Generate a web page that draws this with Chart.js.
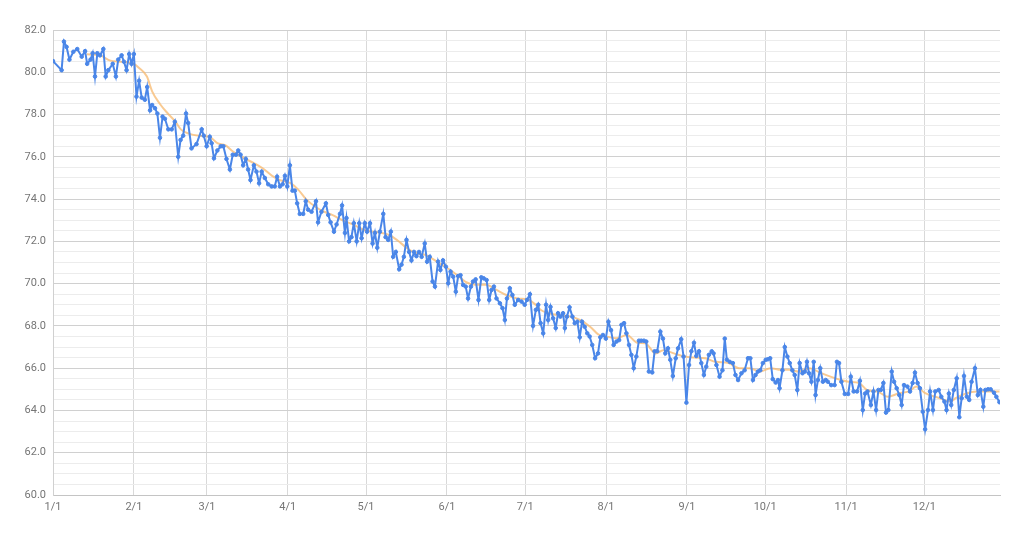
<!DOCTYPE html>
<html lang="en">
<head>
  <meta charset="UTF-8" />
  <title>Weight over the year</title>
  <script src="https://cdn.jsdelivr.net/npm/chart.js"></script>
  <style>
    html, body {
      margin: 0;
      padding: 0;
      background: #fff;
    }
    #chart {
      display: block;
    }
  </style>
</head>
<body>
  <canvas id="chart" width="1024" height="537"></canvas>

  <script>
    // x positions are days since 1/1
    const dayNums = [
      0, 3.3, 4.2, 5.2, 6.3, 7.8, 9.3, 11, 12.3, 13.1, 14.4, 15.2, 16.1, 17, 18, 19.3, 20.2, 21.2, 22.9, 24.1,
      25, 26.3, 27.2, 28.2, 29.2, 30.1, 31, 32, 33, 34, 35.2, 36.1, 37.2, 38, 39.1, 40, 41, 42, 42.9, 44.2,
      45.5, 46.7, 48, 48.9, 49.9, 51, 51.8, 53.1, 55, 57, 57.8, 58.9, 60.1, 60.8, 61.7, 63, 64.3, 65.3, 66.5, 67.8,
      68.9, 70.1, 71, 71.9, 72.9, 73.9, 74.8, 75.7, 77, 78, 79, 80, 81.2, 82.5, 83.8, 85, 85.9, 87, 88, 88.9,
      89.8, 90.8, 91.8, 92.7, 93.6, 94.6, 95.9, 96.9, 97.8, 99.1, 100.8, 101.6, 102.9, 104.6, 105.5, 106.4, 107.7, 108.7, 110, 110.8,
      111.9, 112.5, 113.5, 114.4, 115.3, 116.4, 117.4, 118.3, 119.5, 120.4, 121.5, 122.5, 123.4, 124.3, 125.3, 126.6, 127.5, 128.5, 129.5, 130.4,
      131.4, 132.7, 133.6, 134.5, 135.5, 136.5, 137.4, 138.4, 139.3, 140.3, 141.3, 142.5, 143.4, 144.4, 145.5, 146.4, 147.6, 148.5, 149.5, 150.6,
      151.5, 152.4, 153.4, 154.4, 155.3, 156.2, 157.2, 158.2, 159.1, 160.2, 161, 162, 163.1, 164.2, 165.1, 166.2, 167.2, 168.1, 169, 170,
      171.3, 172.3, 173.2, 174, 175.1, 176.1, 177, 178.3, 179.6, 180.8, 181.7, 182.8, 184, 185.1, 186, 186.9, 187.9, 189, 189.8, 190.7,
      191.7, 192.7, 193.6, 194.5, 195.5, 196.2, 197, 198, 199.1, 200, 201, 201.9, 202.8, 203.8, 204.8, 205.7, 206.7, 207.8, 208.9, 209.8,
      210.8, 211.9, 212.9, 213.9, 214.9, 216, 217, 217.9, 218.9, 219.8, 220.8, 221.7, 222.6, 223.6, 224.6, 225.5, 226.5, 227.4, 228.4, 229.7,
      230.6, 231.6, 232.8, 233.8, 234.7, 235.7, 236.6, 237.6, 238.7, 239.6, 240.8, 241.7, 242.8, 243.8, 244.7, 245.7, 246.6, 247.6, 248.5, 249.5,
      250.4, 251.4, 252.5, 253.2, 254.3, 255.5, 256.6, 257.5, 258.3, 259.4, 260.6, 261.6, 262.6, 263.9, 265.1, 266.4, 267.3, 268.3, 269.3, 270.2,
      271.1, 272.1, 273.2, 274, 274.9, 275.9, 277, 277.9, 278.5, 279.6, 280.5, 281.5, 282.4, 283.4, 284.3, 285.3, 286.2, 287.3, 288.2, 289,
      289.8, 290.7, 291.6, 292.3, 293.2, 294.1, 295.1, 296.2, 297, 298.3, 299.6, 300.5, 301.3, 302.2, 303.5, 304.8, 305.8, 306.9, 308.2, 309.3,
      310.4, 311.3, 312.2, 313.5, 314.5, 315.5, 316.4, 317.3, 318.3, 319.3, 320.2, 321.5, 322.4, 323.4, 324.4, 325.3, 326.2, 327.5, 328.5, 329.5,
      330.4, 331.4, 332.3, 333.4, 334.3, 335.4, 336.2, 337.3, 338.2, 339.5, 340.5, 341.7, 342.5, 343.4, 344.3, 345.3, 346.4, 347.4, 348.3, 349.2,
      350.3, 351.2, 352.1, 353.4, 354.5, 355.5, 356.6, 357.4, 358.4, 359.4, 360.7, 361.6, 362.8
    ];

    const weights = [
      80.53, 80.1, 81.45, 81.2, 80.6, 80.97, 81.1, 80.74, 81.0, 80.4, 80.6, 80.9, 79.8, 80.9, 80.8, 81.1, 79.8, 80.1, 80.4, 79.8,
      80.6, 80.8, 80.5, 80.1, 80.86, 80.4, 80.86, 78.85, 79.6, 78.8, 78.7, 79.3, 78.2, 78.45, 78.3, 78.05, 76.9, 77.9, 77.8, 77.3,
      77.3, 77.66, 76.0, 76.8, 77.0, 78.05, 77.6, 76.4, 76.6, 77.3, 77.0, 76.5, 76.95, 76.64, 75.93, 76.3, 76.5, 76.5, 75.9, 75.4,
      76.1, 76.1, 76.3, 76.1, 75.6, 75.9, 75.4, 74.9, 75.6, 75.3, 74.75, 75.3, 75.0, 74.7, 74.6, 74.6, 75.06, 74.6, 74.7, 75.1,
      74.6, 75.6, 74.4, 74.4, 73.8, 73.3, 73.3, 73.9, 73.5, 73.4, 73.9, 72.9, 73.4, 73.8, 73.25, 72.9, 72.46, 72.8, 73.3, 73.7,
      72.4, 73.1, 72.0, 72.2, 72.86, 72.0, 72.86, 72.15, 72.86, 72.46, 72.86, 71.9, 72.4, 71.7, 72.46, 73.3, 72.2, 72.07, 72.46, 71.27,
      71.5, 70.68, 70.9, 71.27, 72.07, 71.5, 71.1, 71.5, 71.3, 71.5, 71.27, 71.9, 71.04, 71.27, 70.1, 69.86, 71.04, 70.65, 71.1, 70.8,
      70.02, 70.57, 70.33, 69.62, 70.36, 70.4, 69.94, 69.86, 69.3, 69.86, 70.1, 70.2, 69.23, 70.3, 70.25, 70.17, 69.23, 69.7, 69.86, 69.3,
      69.07, 68.84, 68.28, 69.3, 69.78, 69.46, 69.0, 69.23, 69.15, 69.0, 69.23, 69.5, 68.0, 68.76, 69.0, 68.13, 67.65, 69.0, 68.28, 68.9,
      68.36, 67.9, 68.6, 68.44, 68.6, 67.9, 68.44, 68.88, 68.44, 68.13, 68.2, 67.46, 68.2, 67.96, 67.65, 67.5, 67.1, 66.47, 66.7, 67.46,
      67.57, 67.4, 68.2, 67.8, 67.1, 67.26, 67.33, 68.05, 68.13, 67.65, 67.1, 66.63, 66.0, 66.55, 67.3, 67.3, 67.3, 67.26, 65.84, 65.8,
      66.8, 66.8, 67.73, 67.4, 66.7, 66.94, 66.4, 65.63, 66.47, 66.94, 67.37, 66.55, 64.37, 66.15, 66.8, 67.2, 66.58, 66.8, 66.24, 65.68,
      66.07, 66.63, 66.8, 66.7, 66.15, 65.6, 65.9, 67.4, 66.4, 66.3, 66.24, 65.68, 65.44, 65.76, 65.9, 66.47, 66.47, 65.44, 65.68, 65.84,
      65.9, 66.24, 66.4, 66.42, 66.47, 65.48, 65.32, 65.44, 65.05, 65.9, 67.0, 66.55, 66.24, 65.9, 65.68, 64.97, 66.24, 65.76, 65.84, 66.3,
      65.76, 65.36, 66.3, 64.73, 65.44, 66.0, 65.36, 65.44, 65.36, 65.2, 65.2, 66.3, 66.24, 65.36, 64.78, 64.78, 65.6, 64.9, 64.9, 65.4,
      64.02, 64.8, 64.9, 64.26, 64.9, 64.02, 64.97, 64.97, 65.3, 63.9, 64.02, 65.84, 65.36, 65.05, 64.73, 64.26, 65.2, 65.13, 64.9, 65.3,
      65.79, 65.3, 65.05, 63.94, 63.11, 64.02, 64.9, 64.02, 64.9, 64.97, 64.65, 64.42, 64.02, 64.8, 64.26, 64.97, 65.52, 63.68, 64.58, 65.63,
      64.65, 64.5, 65.36, 66.0, 64.73, 64.97, 64.18, 64.97, 65.0, 65.0, 64.84, 64.65, 64.39
    ];

    // smoothed trend (orange), read at a coarser spacing
    const trendDays = [
      13, 18, 22, 26, 31, 33, 36, 38, 41, 44, 47, 49, 52, 56, 60, 63, 66, 69, 73, 77,
      81, 84, 87, 91, 94, 97, 101, 104, 107, 111, 115, 119, 123, 126, 129, 132, 136, 139, 143, 147,
      151, 155, 158, 162, 166, 170, 174, 178, 182, 185, 187, 190, 194, 198, 202, 206, 209, 212, 216, 220,
      224, 227, 231, 234, 238, 242, 246, 250, 254, 259, 263, 267, 271, 275, 279, 282, 286, 290, 294, 298,
      302, 305, 309, 312, 316, 320, 324, 328, 331, 334, 336, 340, 344, 346, 350, 354, 358, 362.8
    ];
    const trendWeights = [
      80.85, 80.8, 80.55, 80.5, 80.4, 80.2, 79.8, 79.1, 78.5, 78.05, 77.65, 77.3, 77.1, 77.0, 76.95, 76.65, 76.55, 76.25, 75.95, 75.7,
      75.4, 75.1, 74.9, 74.75, 74.45, 74.0, 73.6, 73.4, 73.25, 73.0, 72.8, 72.55, 72.45, 72.4, 72.3, 72.05, 71.65, 71.45, 71.35, 71.05,
      70.75, 70.4, 70.1, 69.95, 69.95, 69.7, 69.45, 69.3, 69.25, 69.0, 68.75, 68.6, 68.5, 68.45, 68.28, 67.95, 67.6, 67.5, 67.42, 67.57,
      67.2, 67.18, 66.7, 66.85, 66.7, 66.55, 66.5, 66.47, 66.3, 66.24, 66.0, 66.0, 65.84, 66.0, 65.92, 65.92, 65.84, 66.0, 65.79, 65.6,
      65.44, 65.36, 65.3, 64.97, 64.9, 64.65, 64.8, 64.9, 65.13, 64.84, 64.73, 64.58, 64.42, 64.58, 64.8, 64.9, 64.9, 64.9
    ];

    const monthStartDays = [0, 31, 59, 90, 120, 151, 181, 212, 243, 273, 304, 334];
    const monthLabels = ['1/1', '2/1', '3/1', '4/1', '5/1', '6/1', '7/1', '8/1', '9/1', '10/1', '11/1', '12/1'];

    const yMin = 60;
    const yMax = 82;
    const lastDay = 363;

    const toPoints = (xs, ys) => xs.map((x, i) => ({ x: x, y: ys[i] }));

    const tickFont = { family: 'Roboto, "Open Sans", sans-serif', size: 11 };

    new Chart(document.getElementById('chart'), {
      type: 'line',
      data: {
        datasets: [
          {
            label: 'Weight',
            data: toPoints(dayNums, weights),
            borderColor: '#4a86e8',
            backgroundColor: '#4a86e8',
            borderWidth: 2,
            pointRadius: 1.8,
            pointBorderWidth: 1,
            pointBackgroundColor: '#4a86e8',
            pointBorderColor: '#4a86e8',
            tension: 0
          },
          {
            label: 'Trend',
            data: toPoints(trendDays, trendWeights),
            borderColor: 'rgba(247, 184, 110, 0.75)',
            borderWidth: 2,
            pointRadius: 0,
            tension: 0.4,
            cubicInterpolationMode: 'monotone'
          }
        ]
      },
      options: {
        responsive: false,
        animation: false,
        layout: { padding: { top: 30, right: 24, bottom: 0, left: 0 } },
        plugins: {
          legend: { display: false },
          tooltip: { enabled: false }
        },
        scales: {
          x: {
            type: 'linear',
            min: 0,
            max: lastDay,
            afterBuildTicks: (scale) => {
              scale.ticks = monthStartDays.map(v => ({ value: v }));
            },
            afterFit: (scale) => { scale.height = 42; },
            ticks: {
              autoSkip: false,
              maxRotation: 0,
              padding: 6,
              color: '#757575',
              font: tickFont,
              callback: (v) => monthLabels[monthStartDays.indexOf(v)]
            },
            grid: {
              color: '#d9d9d9',
              lineWidth: 1,
              drawTicks: false
            },
            border: { color: '#c4c4c4' }
          },
          y: {
            min: yMin,
            max: yMax,
            afterFit: (scale) => { scale.width = 53; },
            ticks: {
              stepSize: 0.5,
              autoSkip: false,
              padding: 7,
              color: '#757575',
              font: tickFont,
              callback: (v) => (v % 2 === 0 ? v.toFixed(1) : '')
            },
            grid: {
              drawTicks: false,
              color: (ctx) => (ctx.tick && ctx.tick.value % 2 === 0 ? '#d0d0d0' : '#ececec')
            },
            border: { color: '#d0d0d0' }
          }
        }
      }
    });
  </script>
</body>
</html>
